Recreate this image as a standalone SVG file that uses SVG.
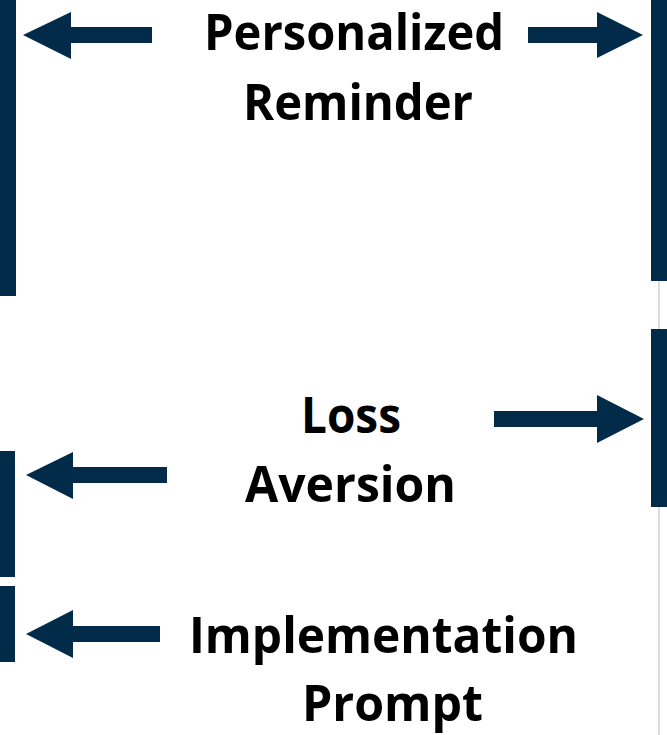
<svg xmlns="http://www.w3.org/2000/svg" width="667" height="735" viewBox="0 0 667 735">
<style>
.bar{fill:#022b4a}
.arr{fill:#022b4a}
.t{font-family:"Open Sans","Liberation Sans",sans-serif;font-weight:bold;font-size:50px;fill:#000}
</style>
<rect width="667" height="735" fill="#fff"/>
<line x1="659" y1="0" x2="659" y2="735" stroke="#dcdcdc" stroke-width="2"/>
<g id="bars">
<rect id="bar-left-1" class="bar" x="0" y="0" width="16" height="296"/>
<rect id="bar-left-2" class="bar" x="0" y="451" width="15" height="126"/>
<rect id="bar-left-3" class="bar" x="0" y="586" width="15" height="76"/>
<rect id="bar-right-1" class="bar" x="651" y="0" width="16" height="281"/>
<rect id="bar-right-2" class="bar" x="651" y="329" width="16" height="178"/>
</g>
<g id="connectors">
<polygon class="arr" points="152,27 71,27 71,12 23,35 71,59 71,43 152,43"/>
<polygon class="arr" points="528,27 597,27 597,12 643,35 597,58 597,43 528,43"/>
<polygon class="arr" points="494,411 597,411 597,395 644,419 597,443 597,427 494,427"/>
<polygon class="arr" points="167,467 73,467 73,452 26,475 73,499 73,483 167,483"/>
<polygon class="arr" points="160,626 73,626 73,610 26,634 73,658 73,642 160,642"/>
</g>
<g id="node-personalized">
<text class="t" x="204" y="50" textLength="300" lengthAdjust="spacingAndGlyphs">Personalized</text>
<text class="t" x="243" y="120" textLength="230" lengthAdjust="spacingAndGlyphs">Reminder</text>
</g>
<g id="node-loss">
<text class="t" x="301" y="433" textLength="100" lengthAdjust="spacingAndGlyphs">Loss</text>
<text class="t" x="245" y="502" textLength="211" lengthAdjust="spacingAndGlyphs">Aversion</text>
</g>
<g id="node-implementation">
<text class="t" x="189" y="653" textLength="389" lengthAdjust="spacingAndGlyphs">Implementation</text>
<text class="t" x="302" y="721" textLength="181" lengthAdjust="spacingAndGlyphs">Prompt</text>
</g>
</svg>
